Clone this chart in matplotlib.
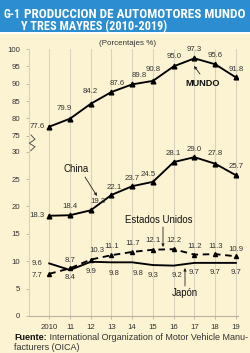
import numpy as np
import matplotlib
matplotlib.use("Agg")
import matplotlib.pyplot as plt
from matplotlib import font_manager
from matplotlib.patches import Rectangle
from matplotlib.lines import Line2D

# ---------------- data ----------------
years = [2010, 2011, 2012, 2013, 2014, 2015, 2016, 2017, 2018, 2019]
year_labels = ["2010", "11", "12", "13", "14", "15", "16", "17", "18", "19"]
mundo = [77.6, 79.9, 84.2, 87.6, 89.8, 90.8, 95.0, 97.3, 95.6, 91.8]
china = [18.3, 18.4, 19.3, 22.1, 23.7, 24.5, 28.1, 29.0, 27.8, 25.7]
usa = [7.7, 8.7, 10.3, 11.1, 11.7, 12.1, 12.2, 11.2, 11.3, 10.9]
japon = [9.6, 8.4, 9.9, 9.8, 9.8, 9.3, 9.2, 9.7, 9.7, 9.7]
yticks = [0, 5, 10, 15, 20, 25, 30, 75, 80, 85, 90, 95, 100]

title_num = "G-1"
title_l1 = "PRODUCCION DE AUTOMOTORES MUNDO"
title_l2 = "Y TRES MAYRES (2010-2019)"
subtitle = "(Porcentajes %)"
source_bold = "Fuente:"
source_l1 = " International Organization of Motor Vehicle Manu-"
source_l2 = "facturers (OICA)"

# ---------------- style ----------------
W, H = 250, 353
CREAM = "#FBF3D2"
BLUE = "#2C8ED0"
GRID = "#D9D2BE"
TXT = "#333333"

fonts = font_manager.fontManager.ttflist
names = {f.name for f in fonts}
SANS = ["Liberation Sans", "DejaVu Sans"]
TITLE_FAM, TITLE_STRETCH = ["DejaVu Sans"], "condensed"
for cand in ["Roboto Condensed", "Liberation Sans Narrow", "Open Sans Condensed"]:
    if cand in names:
        TITLE_FAM, TITLE_STRETCH = [cand, "DejaVu Sans"], "normal"
        break
else:
    for cand in ["Roboto", "Open Sans", "Noto Sans"]:
        if any(f.name == cand and f.stretch in ("condensed", "semi-condensed",
                                                  "extra-condensed", 75, 87.5)
               for f in fonts):
            TITLE_FAM, TITLE_STRETCH = [cand, "DejaVu Sans"], "condensed"
            break
plt.rcParams["font.family"] = SANS

# broken y scale (pixels per unit in each part)
B_SC, GAP, T_SC = 5.48, 16.0, 3.47
Y1 = 30 * B_SC
Y2 = Y1 + GAP


def fwd(v):
    v = np.asarray(v, dtype=float)
    return np.where(v <= 30, v * B_SC,
                    np.where(v <= 75, Y1 + (v - 30) * GAP / 45.0,
                             Y2 + (v - 75) * T_SC))


def inv(y):
    y = np.asarray(y, dtype=float)
    return np.where(y <= Y1, y / B_SC,
                    np.where(y <= Y2, 30 + (y - Y1) * 45.0 / GAP,
                             75 + (y - Y2) / T_SC))


fig = plt.figure(figsize=(W / 100, H / 100), dpi=100, facecolor=CREAM)


def fp(x, y):
    """figure pixel coords measured from top-left"""
    return (x, H - y)


# title bar
fig.add_artist(Rectangle((0, 1 - 32 / H), 1, 32 / H, transform=fig.transFigure,
                         facecolor=BLUE, edgecolor="none", zorder=0))
fig.add_artist(Rectangle((0, 1 - 34 / H), 1, 2 / H, transform=fig.transFigure,
                         facecolor="white", edgecolor="none", zorder=0))

renderer = fig.canvas.get_renderer()


def fit_text(x, y, s, target_w, size0, **kw):
    t = fig.text(x / W, 1 - y / H, s, fontsize=size0, **kw)
    w = t.get_window_extent(renderer).width
    if w > 0:
        t.set_fontsize(size0 * target_w / w)
    return t


tkw = dict(color="white", fontweight="bold", family=TITLE_FAM,
           fontstretch=TITLE_STRETCH, va="baseline", ha="left")
fit_text(3, 17.5, title_num, 17, 11, **tkw)
fit_text(24, 17.5, title_l1, 222, 11, **tkw)
fit_text(21, 30.5, title_l2, 146, 11, **tkw)

# ---------------- axes ----------------
ax = fig.add_axes([28.5 / W, 1 - 316 / H, (238 - 28.5) / W, 267 / H])
ax.set_facecolor(CREAM)
ax.set_yscale("function", functions=(fwd, inv))
ax.set_ylim(0, 100)
ax.set_xlim(2009, 2019.1)
ax.set_yticks(yticks)
ax.set_yticklabels([str(v) for v in yticks])
ax.set_xticks(years)
ax.set_xticklabels(year_labels)
ax.minorticks_off()
ax.grid(axis="x", color=GRID, lw=0.8)
ax.grid(axis="y", visible=False)
for s in ["top", "right"]:
    ax.spines[s].set_visible(False)
ax.spines["left"].set_color(GRID)
ax.spines["left"].set_linewidth(0.8)
ax.spines["bottom"].set_color("#B8B19C")
ax.spines["bottom"].set_linewidth(0.8)
ax.tick_params(axis="both", labelsize=5.6, colors="#B8B19C", labelcolor=TXT,
               length=2, width=0.6)
ax.tick_params(axis="y", pad=4)
ax.tick_params(axis="x", pad=4)

LW = 1.35
ax.plot(years, mundo, color="black", lw=LW, marker="^", ms=3.4, zorder=3)
ax.plot(years, china, color="black", lw=LW, marker="^", ms=3.4, zorder=3)
ax.plot(years, usa, color="black", lw=LW, ls=(0, (3.5, 2.5)), marker="^",
        ms=2.9, zorder=3)
ax.plot(years, japon, color="black", lw=LW, zorder=3)

mundo_off = [(-12, 0), (-6, 10), (0, 12), (6, 9), (7, 9), (0, 11), (0, 10), (0, 9), (0, 9), (0, 8)]
china_off = [(-12, 0), (0, 9), (7, 9), (3, 7), (0, 8), (-5, 7), (0, 9), (0, 8), (0, 10), (0, 9)]
usa_off = [(-12, -2), (0, 8), (6, 9), (0, 9), (0, 8), (0, 9), (0, 9), (0, 8), (0, 8), (0, 7)]
jap_off = [(-12, 0), (0, -8), (0, -10), (3, -11), (6, -11), (0, -10), (3, -10), (0, -10), (0, -10), (0, -10)]

for vals, offs in [(mundo, mundo_off), (china, china_off), (usa, usa_off), (japon, jap_off)]:
    for x, v, o in zip(years, vals, offs):
        ax.annotate(f"{v:.1f}", (x, v), xytext=o, textcoords="offset pixels",
                    ha="center", va="center", fontsize=5.6, color=TXT, zorder=4)

# series names with arrows (figure pixel coords from top-left)
ap = dict(arrowstyle="-|>", lw=0.6, color="#222222", mutation_scale=4,
          shrinkA=0, shrinkB=0)
fig.text(203 / W, 1 - 83.5 / H, "MUNDO", fontsize=6.6, fontweight="bold",
         ha="center", va="center", color="#111111")
ax.annotate("", xy=fp(194, 66), xytext=fp(200, 74), xycoords="figure pixels",
            textcoords="figure pixels", arrowprops=ap)
fig.text(76 / W, 1 - 169 / H, "China", fontsize=6.9, ha="center", va="center",
         color="#111111")
ax.annotate("", xy=fp(97, 196), xytext=fp(85, 177), xycoords="figure pixels",
            textcoords="figure pixels", arrowprops=ap)
fig.text(158.3 / W, 1 - 220 / H, "Estados Unidos", fontsize=6.9, ha="center",
         va="center", color="#111111")
ax.annotate("", xy=fp(163, 247), xytext=fp(163, 227), xycoords="figure pixels",
            textcoords="figure pixels", arrowprops=ap)
fig.text(185 / W, 1 - 293.5 / H, "Japón", fontsize=6.9, ha="center",
         va="center", color="#111111")
ax.annotate("", xy=fp(185, 268), xytext=fp(185, 286), xycoords="figure pixels",
            textcoords="figure pixels", arrowprops=ap)

fig.text(128 / W, 1 - 43.5 / H, subtitle, fontsize=5.8, ha="center",
         va="center", color=TXT)

# axis break zig-zag
zx = [31, 35, 29.3, 35, 30.7]
zy = [135, 139.3, 143.3, 146.7, 150.7]
fig.add_artist(Line2D([x / W for x in zx], [1 - y / H for y in zy],
                      transform=fig.transFigure, color="#555555", lw=0.7))

# source (scaled so line 1 spans x=14..245 px)
SRC_FS = 5.9
t1 = fig.text(14 / W, 1 - 340 / H, source_bold, fontsize=SRC_FS,
              fontweight="bold", color="#111111", va="baseline", ha="left")
t2 = fig.text(0, 1 - 340 / H, source_l1, fontsize=SRC_FS, color=TXT,
              va="baseline", ha="left")
tot = t1.get_window_extent(renderer).width + t2.get_window_extent(renderer).width
fs = SRC_FS * 231.0 / tot
t1.set_fontsize(fs)
t2.set_fontsize(fs)
w1 = t1.get_window_extent(renderer).width
t2.set_x((14 + w1) / W)
fig.text(14 / W, 1 - 349.5 / H, source_l2, fontsize=fs, color=TXT,
         va="baseline", ha="left")

fig.savefig("out.png", dpi=100, facecolor=CREAM)
